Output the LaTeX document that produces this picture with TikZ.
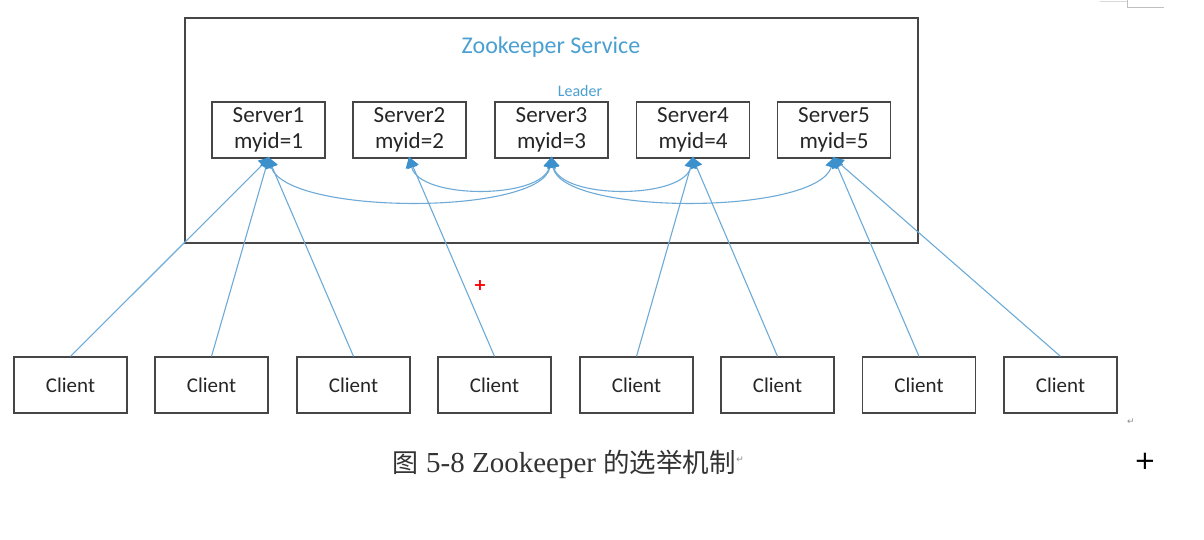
\documentclass[tikz,border=0pt]{standalone}
\usepackage{fontspec}
\setmainfont{Carlito}
\newfontfamily\cjk{Noto Sans CJK SC}
\newfontfamily\capserif{Liberation Serif}
\newfontfamily\symf{DejaVu Sans}
\usetikzlibrary{arrows.meta}
\definecolor{boxline}{RGB}{70,70,70}
\definecolor{linkblue}{RGB}{110,170,215}
\definecolor{tipblue}{RGB}{60,145,205}
\definecolor{titleblue}{RGB}{75,160,210}
\begin{document}
\begin{tikzpicture}[x=1pt,y=-1pt,
  serverbox/.style={draw=boxline,line width=1.2pt,minimum width=113pt,minimum height=56pt,inner sep=0pt,align=center,font=\fontsize{23}{26.5}\selectfont,text=black!85},
  clientbox/.style={draw=boxline,line width=1.2pt,minimum width=113pt,minimum height=56pt,inner sep=0pt,font=\fontsize{21}{24}\selectfont,text=black!85},
  link/.style={draw=linkblue,line width=1.1pt,-{Triangle[length=11pt,width=12pt,fill=tipblue,color=tipblue]},shorten >=-2pt},
  biarc/.style={draw=linkblue,line width=1.1pt,{Triangle[length=11pt,width=12pt,fill=tipblue,color=tipblue]}-{Triangle[length=11pt,width=12pt,fill=tipblue,color=tipblue]},shorten >=-2pt,shorten <=-2pt}
]
\useasboundingbox (0,0) rectangle (1204,539);
\fill[white] (0,0) rectangle (1204,539);
% page corner marks
\draw[black!25,line width=0.8pt] (1127,0) -- (1127,7) -- (1164,7);
\draw[black!15,line width=0.8pt] (1100,1) -- (1127,1);
% outer service box
\node[draw=boxline,line width=1.2pt,minimum width=733pt,minimum height=225pt,inner sep=0pt] (svc) at (551.5,130.5) {};
\node[text=titleblue,font=\fontsize{24}{26}\selectfont] (title) at (551,47) {Zookeeper Service};
\node[text=titleblue,font=\fontsize{16}{18}\selectfont] (leader) at (580,91) {Leader};
% servers
\node[serverbox] (s1) at (268.5,130) {Server1\\myid=1};
\node[serverbox] (s2) at (409.5,130) {Server2\\myid=2};
\node[serverbox] (s3) at (551.5,130) {Server3\\myid=3};
\node[serverbox] (s4) at (693,130) {Server4\\myid=4};
\node[serverbox] (s5) at (834,130) {Server5\\myid=5};
% clients
\node[clientbox] (c1) at (70.5,385) {Client};
\node[clientbox] (c2) at (211.5,385) {Client};
\node[clientbox] (c3) at (353.5,385) {Client};
\node[clientbox] (c4) at (494.5,385) {Client};
\node[clientbox] (c5) at (636.5,385) {Client};
\node[clientbox] (c6) at (777.5,385) {Client};
\node[clientbox] (c7) at (919,385) {Client};
\node[clientbox] (c8) at (1060.5,385) {Client};
% client links
\draw[link] (c1.north) -- (s1.south);
\draw[link] (c2.north) -- (s1.south);
\draw[link] (c3.north) -- (s1.south);
\draw[link] (c4.north) -- (s2.south);
\draw[link] (c5.north) -- (s4.south);
\draw[link] (c6.north) -- (s4.south);
\draw[link] (c7.north) -- (s5.south);
\draw[link] (c8.north) -- (s5.south);
% server-server curves
\draw[biarc] (s3.south) .. controls +(-10,57) and +(18,57) .. (s1.south);
\draw[biarc] (s3.south) .. controls +(-10,41) and +(10,41) .. (s2.south);
\draw[biarc] (s3.south) .. controls +(10,41) and +(-10,41) .. (s4.south);
\draw[biarc] (s3.south) .. controls +(10,57) and +(-18,57) .. (s5.south);
% caption
\node[anchor=west,inner sep=0pt,text=black!80] (cap) at (392,464) {\cjk\fontsize{26}{30}\selectfont 图\hspace{8pt}\capserif\fontsize{29}{30}\selectfont 5-8 Zookeeper \cjk\fontsize{26.5}{30}\selectfont 的选举机制};
\node[anchor=west,inner sep=0pt,text=black!45,font=\symf\fontsize{9}{10}\selectfont] (ret1) at ([yshift=4pt]cap.east) {↵};
\node[inner sep=0pt,text=black!45,font=\symf\fontsize{9}{10}\selectfont] (ret2) at (1131,422) {↵};
% cursors
\node[inner sep=0pt,text=red,font=\symf\bfseries\fontsize{16}{16}\selectfont] (cur1) at (480,285) {+};
\node[inner sep=0pt,text=black,font=\symf\fontsize{26}{26}\selectfont] (cur2) at (1145,461) {+};
\end{tikzpicture}
\end{document}
